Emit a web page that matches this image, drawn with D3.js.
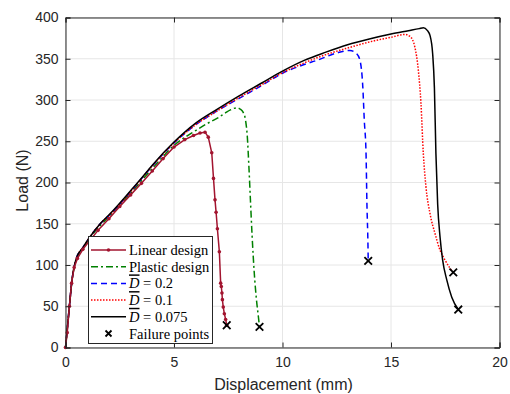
<!DOCTYPE html>
<html>
<head>
<meta charset="utf-8">
<script src="https://cdn.jsdelivr.net/npm/d3@7"></script>
<style>
  html, body { margin: 0; padding: 0; background: #fff; }
  svg { display: block; }
</style>
</head>
<body>
<svg id="chart" width="510" height="394"></svg>
<script>
// ---------------- data ----------------
const xTicks = [0, 5, 10, 15, 20];
const yTicks = [0, 50, 100, 150, 200, 250, 300, 350, 400];

const linearDisp = [0,0.08,0.18,0.28,0.4,0.55,0.8,1.1,1.5,2.0,2.5,3.0,3.5,4.0,4.5,5.0,5.5,5.9,6.2,6.43,6.58,6.74,6.82,6.89,6.94,7.0,7.09,7.15,7.18,7.21,7.23,7.27,7.32,7.38,7.43];
const linearLoad = [0,18,50,78,97,108,119,129,142,156,171,185,199,214,229,243,252,257,260,261,255,236,205,179,164,144,116,78,74,66,58,49,41,34,27];

const plasticDisp = [0,0.1,0.2,0.3,0.4,0.5,0.8,1.1,1.6,2.05,3.0,4.0,5.0,6.0,6.5,7.0,7.35,7.6,7.89,8.05,8.19,8.3,8.38,8.45,8.52,8.6,8.7,8.8,8.89,8.94];
const plasticLoad = [0,27,55,81,97,107,120,132,148,160,187,217,245,263,271,278,284,288,290.5,289,285,275,255,220,180,135,90,58,37,25];

const d02Disp = [0,0.1,0.2,0.3,0.4,0.5,0.8,1.1,1.6,2.05,3.0,4.0,5.0,6.0,7.0,8.0,9.0,10.04,11.0,11.58,12.5,13.11,13.42,13.57,13.7,13.77,13.85,13.89,13.94,13.95];
const d02Load = [0,28,56,82,98,108,121,133,150,161,189,220,248,270,287,302,317,333,343,348,357,360,356,348,316,275,235,175,122,105];

const d01Disp = [0,0.1,0.2,0.3,0.4,0.5,0.8,1.1,1.6,2.05,3.0,4.0,5.0,6.0,7.0,8.0,9.0,10.0,11.0,12.0,13.0,14.19,15.0,15.65,15.88,16.1,16.26,16.38,16.49,16.61,16.8,17.03,17.26,17.49,17.72,17.87];
const d01Load = [0,28,56,82,98,108,121,133,150,161,189,220,248,270,287,303,318,333,345,355,363,371.5,376,379.5,377,364,336,296,235,195,162,138,118,106,96,91];

const d0075Disp = [0,0.1,0.2,0.3,0.4,0.5,0.8,1.1,1.6,2.05,3.0,3.43,4.0,5.0,6.0,7.0,8.0,9.0,10.0,11.0,12.0,13.0,14.0,15.0,15.8,16.3,16.49,16.67,16.8,16.92,17.0,17.07,17.15,17.26,17.38,17.57,17.8,18.1];
const d0075Load = [0,28,56,82,98,108,121,133,150,162,190,203,221,249,272,289,305,320,335,348,358,367,374,380,384,386.5,387.6,384.4,378,356,315,235,174,134,106,82,61,46];

const failDisp = [7.43, 8.94, 13.95, 17.87, 18.1];
const failLoad = [27, 25, 105, 91, 46];

const seriesNames = ["Linear design", "Plastic design", "D = 0.2", "D = 0.1", "D = 0.075", "Failure points"];

// ---------------- chart ----------------
const svg = d3.select("#chart");
const x = d3.scaleLinear().domain([0, 20]).range([65.5, 499.5]);
const y = d3.scaleLinear().domain([0, 400]).range([347.5, 17.5]);
const axisColor = "#262626";
const tickFont = "Liberation Sans, Arial, Helvetica, sans-serif";

// grid
const grid = svg.append("g");
grid.selectAll("line.gx").data(xTicks).enter().append("line")
  .attr("x1", d => x(d)).attr("x2", d => x(d))
  .attr("y1", y(0)).attr("y2", y(400))
  .attr("stroke", "#e6e6e6").attr("stroke-width", 1);
grid.selectAll("line.gy").data(yTicks).enter().append("line")
  .attr("x1", x(0)).attr("x2", x(20))
  .attr("y1", d => y(d)).attr("y2", d => y(d))
  .attr("stroke", "#e6e6e6").attr("stroke-width", 1);

// series
const zip = (xs, ys) => xs.map((d, i) => [d, ys[i]]);
const lineGen = d3.line().x(d => x(d[0])).y(d => y(d[1]));
const smoothGen = d3.line().x(d => x(d[0])).y(d => y(d[1])).curve(d3.curveMonotoneX);

const series = [
  { data: zip(plasticDisp, plasticLoad), color: "#008000", dash: "7,3,2,3", gen: smoothGen },
  { data: zip(d02Disp, d02Load), color: "#0000ff", dash: "6,4", gen: smoothGen },
  { data: zip(d01Disp, d01Load), color: "#ff0000", dash: "1.5,1.5", gen: smoothGen },
  { data: zip(d0075Disp, d0075Load), color: "#000000", dash: null, gen: smoothGen },
  { data: zip(linearDisp, linearLoad), color: "#a2142f", dash: null, gen: lineGen }
];

const plot = svg.append("g");
series.forEach(s => {
  plot.append("path")
    .attr("d", s.gen(s.data))
    .attr("fill", "none")
    .attr("stroke", s.color)
    .attr("stroke-width", 1.5)
    .attr("stroke-dasharray", s.dash)
    .attr("stroke-linejoin", "round");
});
// linear design markers
plot.selectAll("circle.lin").data(zip(linearDisp, linearLoad)).enter().append("circle")
  .attr("cx", d => x(d[0])).attr("cy", d => y(d[1])).attr("r", 1.8)
  .attr("fill", "#a2142f");

// failure points
const xMark = (cx, cy, r) => `M${cx - r},${cy - r}L${cx + r},${cy + r}M${cx - r},${cy + r}L${cx + r},${cy - r}`;
plot.selectAll("path.fail").data(zip(failDisp, failLoad)).enter().append("path")
  .attr("d", d => xMark(x(d[0]), y(d[1]), 3.8))
  .attr("stroke", "#000").attr("stroke-width", 1.8).attr("fill", "none");

// axes
const xAxis = d3.axisBottom(x).tickValues(xTicks).tickSize(-5).tickPadding(10).tickFormat(d3.format("d"));
const yAxis = d3.axisLeft(y).tickValues(yTicks).tickSize(-5).tickPadding(7).tickFormat(d3.format("d"));
const gx = svg.append("g").attr("transform", `translate(0,${y(0)})`).call(xAxis);
const gy = svg.append("g").attr("transform", `translate(${x(0)},0)`).call(yAxis);
const gxTop = svg.append("g").attr("transform", `translate(0,${y(400)})`).call(d3.axisTop(x).tickValues(xTicks).tickSize(-5).tickFormat(""));
const gyRight = svg.append("g").attr("transform", `translate(${x(20)},0)`).call(d3.axisRight(y).tickValues(yTicks).tickSize(-5).tickFormat(""));
[gx, gy, gxTop, gyRight].forEach(g => {
  g.select(".domain").attr("stroke", axisColor).attr("stroke-width", 1);
  g.selectAll(".tick line").attr("stroke", axisColor);
  g.selectAll("text").attr("fill", axisColor).style("font-family", tickFont).style("font-size", "14px");
});

// axis titles
svg.append("text")
  .attr("x", (x(0) + x(20)) / 2 + 1).attr("y", 390)
  .attr("text-anchor", "middle").attr("fill", axisColor)
  .style("font-family", tickFont).style("font-size", "16px")
  .text("Displacement (mm)");
svg.append("text")
  .attr("transform", `translate(28,${(y(0) + y(400)) / 2 - 2}) rotate(-90)`)
  .attr("text-anchor", "middle").attr("fill", axisColor)
  .style("font-family", tickFont).style("font-size", "16px")
  .text("Load (N)");

// legend
const leg = svg.append("g");
leg.append("rect").attr("x", 88.5).attr("y", 236.5).attr("width", 124).attr("height", 107)
  .attr("fill", "#fff").attr("stroke", axisColor).attr("stroke-width", 1);
const legStyles = [
  { color: "#a2142f", dash: null, marker: "dot" },
  { color: "#008000", dash: "7,3,2,3" },
  { color: "#0000ff", dash: "6,4" },
  { color: "#ff0000", dash: "1.5,1.5" },
  { color: "#000000", dash: null },
  { color: "#000000", marker: "x", noLine: true }
];
seriesNames.forEach((name, i) => {
  const cy = 250 + i * 16.7;
  const st = legStyles[i];
  if (!st.noLine) {
    leg.append("line").attr("x1", 91).attr("x2", 126).attr("y1", cy).attr("y2", cy)
      .attr("stroke", st.color).attr("stroke-width", 1.5).attr("stroke-dasharray", st.dash);
  }
  if (st.marker === "dot") {
    leg.append("circle").attr("cx", 108.5).attr("cy", cy).attr("r", 1.8).attr("fill", st.color);
  }
  if (st.marker === "x") {
    leg.append("path").attr("d", xMark(108.5, cy, 3)).attr("stroke", "#000").attr("stroke-width", 1.8);
  }
  const t = leg.append("text").attr("x", 129).attr("y", cy + 5)
    .style("font-family", "Liberation Serif, 'DejaVu Serif', serif").style("font-size", "14.5px").attr("fill", "#000");
  if (name.startsWith("D ")) {
    t.append("tspan").style("font-style", "italic").style("text-decoration", "overline").text("D");
    t.append("tspan").text(name.slice(1));
  } else {
    t.text(name);
  }
});
</script>
</body>
</html>
